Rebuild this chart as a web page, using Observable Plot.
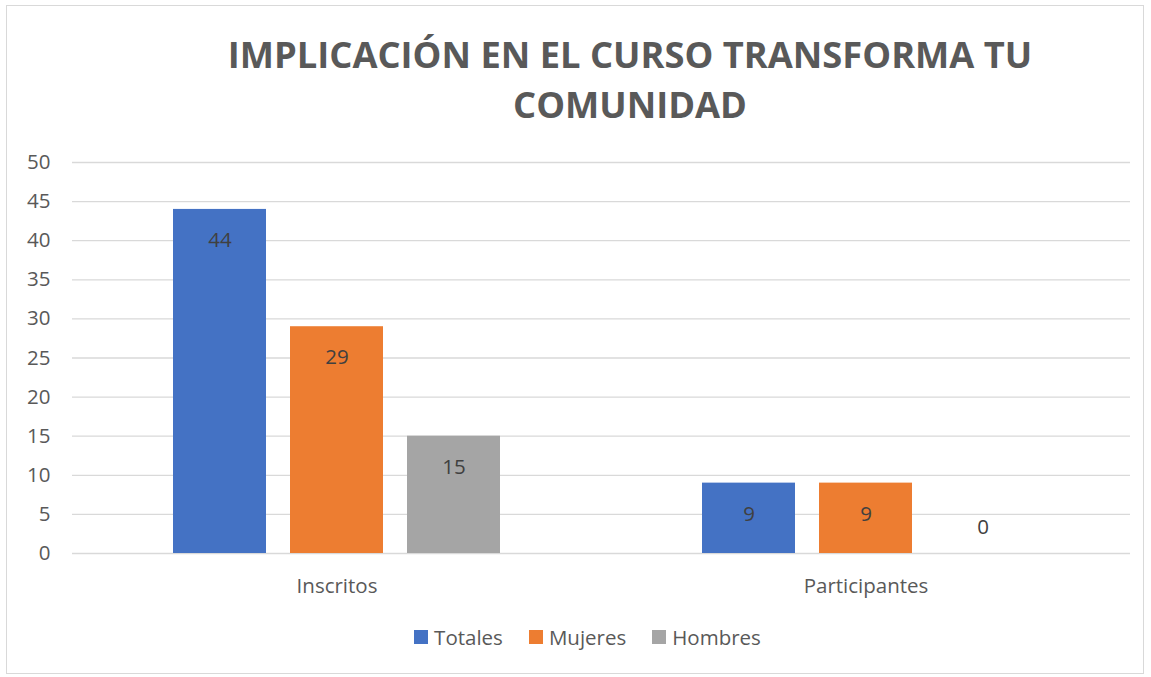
<!DOCTYPE html>
<html>
<head>
<meta charset="utf-8">
<script src="https://cdn.jsdelivr.net/npm/d3@7"></script>
<script src="https://cdn.jsdelivr.net/npm/@observablehq/plot@0.6"></script>
<style>
  html, body { margin: 0; padding: 0; background: #fff; }
  #wrap { position: relative; width: 1151px; height: 677px; overflow: hidden; font-family: "Open Sans", sans-serif; }
  #frame { position: absolute; left: 6px; top: 5px; width: 1138px; height: 669px; border: 1px solid #d9d9d9; box-sizing: border-box; }
  #title { position: absolute; left: 180px; width: 900px; top: 29px; text-align: center; font-weight: bold; font-size: 36.3px; line-height: 50px; color: #595959; }
  #chart { position: absolute; left: 0; top: 0; }
  #legend { position: absolute; left: 12px; width: 1151px; top: 623px; display: flex; justify-content: center; font-size: 20.5px; color: #595959; }
  .item { display: flex; align-items: center; margin: 0 13px; }
  .sw { width: 14px; height: 14px; margin-right: 6px; }
</style>
</head>
<body>
<div id="wrap">
  <div id="frame"></div>
  <div id="title"></div>
  <div id="chart"></div>
  <div id="legend"></div>
</div>
<script>
const titleLines = ["IMPLICACIÓN EN EL CURSO TRANSFORMA TU", "COMUNIDAD"];
const categories = ["Inscritos", "Participantes"];
const series = ["Totales", "Mujeres", "Hombres"];
const colors = ["#4472C4", "#ED7D31", "#A5A5A5"];
const totales = [44, 9];
const mujeres = [29, 9];
const hombres = [15, 0];
const yTicks = [0, 5, 10, 15, 20, 25, 30, 35, 40, 45, 50];

const values = [totales, mujeres, hombres];
const data = [];
categories.forEach((c, i) => series.forEach((s, j) => data.push({cat: c, serie: s, value: values[j][i]})));

document.getElementById("title").innerHTML = titleLines.join("<br>");

const chart = Plot.plot({
  width: 1151,
  height: 677,
  marginTop: 162,
  marginBottom: 124,
  marginLeft: 71,
  marginRight: 21,
  style: {fontFamily: "Open Sans, sans-serif", fontSize: "20.5px", color: "#595959", background: "transparent"},
  fx: {domain: categories, padding: 0, label: null, axis: "bottom", tickSize: 0, tickPadding: 25},
  x: {domain: series, paddingInner: 0.2085, paddingOuter: 0.857, axis: null},
  y: {domain: [0, 50], ticks: yTicks, label: null, tickSize: 0, tickPadding: 22},
  color: {domain: series, range: colors},
  marks: [
    Plot.gridY(yTicks, {stroke: "#d9d9d9", strokeOpacity: 1, strokeWidth: 1.3}),
    Plot.barY(data, {fx: "cat", x: "serie", y: "value", fill: "serie"}),
    Plot.text(data.filter(d => d.value > 0), {fx: "cat", x: "serie", y: "value", text: d => String(d.value), dy: 31, fill: "#404040", fontSize: 20.5}),
    Plot.text(data.filter(d => d.value === 0), {fx: "cat", x: "serie", y: "value", text: d => String(d.value), dy: -26, fill: "#404040", fontSize: 20.5})
  ]
});
document.getElementById("chart").appendChild(chart);

const legend = document.getElementById("legend");
series.forEach((s, j) => {
  const it = document.createElement("div");
  it.className = "item";
  it.innerHTML = `<span class="sw" style="background:${colors[j]}"></span><span>${s}</span>`;
  legend.appendChild(it);
});
</script>
</body>
</html>
